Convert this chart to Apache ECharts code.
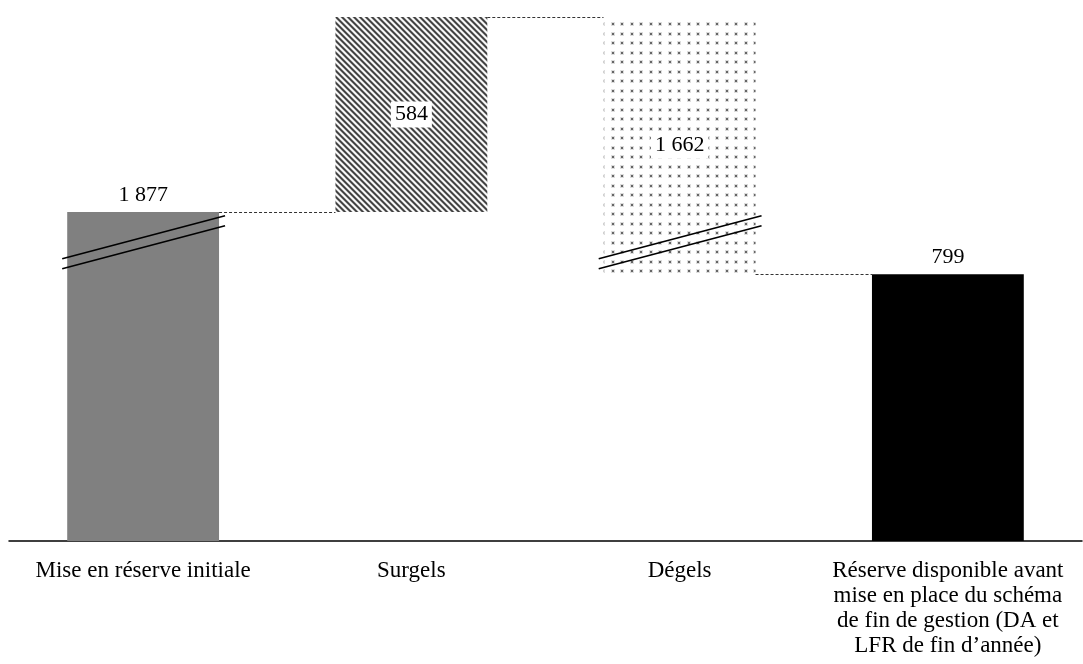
<!DOCTYPE html>
<html>
<head>
<meta charset="utf-8">
<script src="https://cdn.jsdelivr.net/npm/echarts@6/dist/echarts.min.js"></script>
<style>
html,body{margin:0;padding:0;background:#fff;}
#chart{width:1083px;height:664px;}
</style>
</head>
<body>
<div id="chart"></div>
<script>
// ---- data ----
const categories = [
  'Mise en réserve initiale',
  'Surgels',
  'Dégels',
  'Réserve disponible avant\nmise en place du schéma\nde fin de gestion (DA et\nLFR de fin d’année)'
];
const kinds = ['total', 'increase', 'decrease', 'total'];
const amounts = [1877, 584, 1662, 799];
const axisBreak = [894, 1786];   // hidden part of the value axis (not to scale)

// ---- build waterfall ranges ----
const ranges = [];
const endLevels = [];
let running = 0;
amounts.forEach((v, i) => {
  let low, high;
  if (kinds[i] === 'total') { low = 0; high = v; running = v; }
  else if (kinds[i] === 'increase') { low = running; high = running + v; running = high; }
  else { low = running - v; high = running; running = low; }
  ranges.push([i, low, high]);
  endLevels.push(running);
});
const maxLevel = Math.max(...ranges.map(r => r[2]));
const fmt = v => String(v).replace(/\B(?=(\d{3})+(?!\d))/g, ' ');

// ---- patterns ----
function hatchCanvas() {
  const c = document.createElement('canvas');
  c.width = 6; c.height = 6;
  const ctx = c.getContext('2d');
  const shades = ['#666', '#3a3a3a', '#666', '#ddd', '#fff', '#ddd'];
  for (let y = 0; y < 6; y++) for (let x = 0; x < 6; x++) {
    ctx.fillStyle = shades[((x - y) % 6 + 6) % 6];
    ctx.fillRect(x, y, 1, 1);
  }
  return c;
}
function dotCanvas() {
  const c = document.createElement('canvas');
  c.width = 19; c.height = 19;
  const ctx = c.getContext('2d');
  ctx.fillStyle = '#fff'; ctx.fillRect(0, 0, 19, 19);
  [[4, 4], [13, 4], [4, 14], [13, 14]].forEach(p => {
    ctx.fillStyle = '#ddd'; ctx.fillRect(p[0] - 1, p[1] - 1, 4, 4);
    ctx.fillStyle = '#666'; ctx.fillRect(p[0], p[1], 2, 2);
  });
  return c;
}
const fills = {
  0: '#808080',
  1: { image: hatchCanvas(), repeat: 'repeat' },
  2: { image: dotCanvas(), repeat: 'repeat' },
  3: '#000000'
};

const FONT = '22px "Liberation Serif", "Times New Roman", serif';

function renderItem(params, api) {
  const i = api.value(0), low = api.value(1), high = api.value(2);
  const pTop = api.coord([i, high]);
  const pBot = api.coord([i, low]);
  const w = api.size([1, 0])[0] * 0.566;
  const x0 = pTop[0] - w / 2;
  const children = [{
    type: 'rect',
    shape: { x: x0, y: pTop[1], width: w, height: pBot[1] - pTop[1] },
    style: { fill: fills[i] }
  }];
  // break marks
  if (low < axisBreak[0] && high > axisBreak[1]) {
    const yc = api.coord([i, axisBreak[0]])[1];
    const xa = x0 - 5, xb = x0 + w + 6;
    const slope = -43 / 163;
    const cx = pTop[0];
    [-5, 5].forEach(off => {
      children.push({
        type: 'line',
        shape: { x1: xa, y1: yc + off + slope * (xa - cx), x2: xb, y2: yc + off + slope * (xb - cx) },
        style: { stroke: '#000', lineWidth: 1.6 }
      });
    });
  }
  // connector
  if (i < ranges.length - 1) {
    const lvl = endLevels[i];
    const y = Math.round(api.coord([i, lvl])[1]) + 0.5;
    const xn = api.coord([i + 1, lvl])[0] - w / 2;
    children.push({
      type: 'line',
      shape: { x1: x0 + w, y1: y, x2: xn, y2: y },
      style: { stroke: '#333', lineWidth: 1, lineDash: [3, 2] }
    });
  }
  // label
  const floating = low > 0;
  if (floating) {
    children.push({
      type: 'text',
      style: {
        text: fmt(amounts[i]), x: pTop[0], y: (pTop[1] + pBot[1]) / 2,
        align: 'center', verticalAlign: 'middle', font: FONT, fill: '#000',
        backgroundColor: '#fff', padding: [2, 4, 2, 4]
      }
    });
  } else {
    children.push({
      type: 'text',
      style: {
        text: fmt(amounts[i]), x: pTop[0], y: pTop[1] - 6,
        align: 'center', verticalAlign: 'bottom', font: FONT, fill: '#000'
      }
    });
  }
  return { type: 'group', children };
}

const chart = echarts.init(document.getElementById('chart'), null, { renderer: 'canvas' });
chart.setOption({
  animation: false,
  backgroundColor: '#fff',
  grid: { left: 9, width: 1073, top: 17, bottom: 123, containLabel: false },
  xAxis: {
    type: 'category',
    data: categories,
    axisTick: { show: false },
    axisLine: { lineStyle: { color: '#000', width: 1.5 } },
    axisLabel: {
      interval: 0, margin: 17, color: '#000',
      fontFamily: '"Liberation Serif", "Times New Roman", serif',
      fontSize: 23, lineHeight: 25, align: 'center'
    },
    splitLine: { show: false }
  },
  yAxis: {
    type: 'value', min: 0, max: maxLevel, show: false,
    splitLine: { show: false },
    breaks: [{ start: axisBreak[0], end: axisBreak[1], gap: 0 }],
    breakArea: { show: false }
  },
  series: [{
    type: 'custom',
    renderItem,
    encode: { x: 0, y: [1, 2] },
    data: ranges,
    clip: false
  }]
});
</script>
</body>
</html>
